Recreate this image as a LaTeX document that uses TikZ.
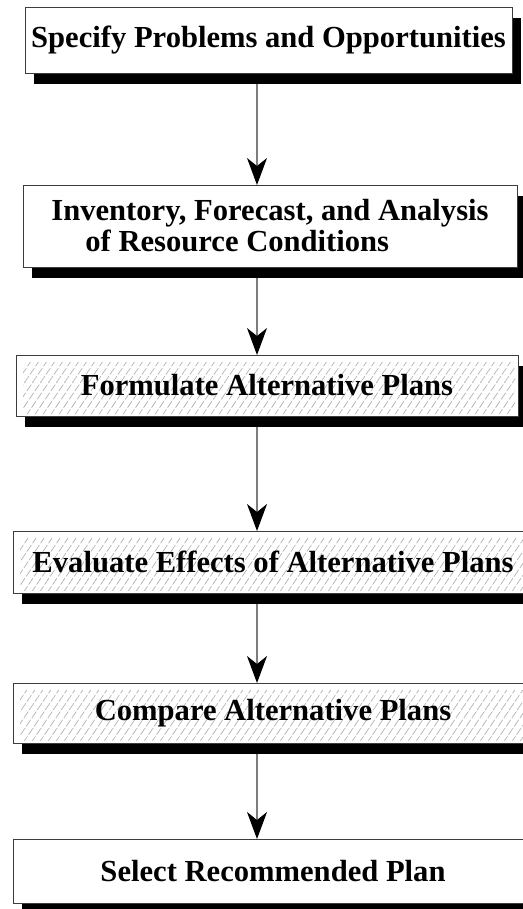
\documentclass[tikz,border=0pt]{standalone}
\usepackage{fontspec}
\setmainfont{Liberation Serif}
\usetikzlibrary{arrows.meta, shadows}
\definecolor{edge}{RGB}{60, 60, 60}
\definecolor{hatch}{RGB}{170, 170, 170}
\definecolor{wire}{RGB}{125, 125, 125}

\tikzset{
  stage/.style={draw=edge, line width=0.9pt, fill=white, anchor=north west,
    inner sep=0pt, outer sep=0pt, align=center,
    font=\bfseries\fontsize{30.6}{31}\selectfont,
    drop shadow={shadow xshift=9pt, shadow yshift=-11pt, fill=black, opacity=1}},
  hatched/.style={path picture={
    \begin{scope}
    \clip ([shift={(7pt,3pt)}]path picture bounding box.south west)
      rectangle ([shift={(-3pt,-7pt)}]path picture bounding box.north east);
    \foreach \i in {-70,-62,...,560}
      \draw[hatch, line width=0.6pt, dash pattern=on 8pt off 2pt]
        ([xshift=\i pt]path picture bounding box.south west) -- ++(56:110pt);
    \end{scope}}},
  flow/.style={wire, line width=1.1pt,
    -{Stealth[length=27pt, width=20pt, inset=8pt, color=black]}}
}

\begin{document}
\begin{tikzpicture}[x=1pt, y=1pt]
  \useasboundingbox (0,0) rectangle (522,-909);
  \coordinate (axis) at (257,0);

  % planning steps
  \node[stage, minimum width=487pt, minimum height=66pt] (specify) at (25,-7)
    {Specify Problems and Opportunities};
  \node[stage, align=left, minimum width=494pt, minimum height=82pt] (inventory) at (23,-185)
    {Inventory, Forecast, and Analysis\\\hspace*{34pt}of Resource Conditions};
  \node[stage, hatched, minimum width=502pt, minimum height=61pt] (formulate) at (16,-355)
    {Formulate Alternative Plans};
  \node[stage, hatched, minimum width=520pt, minimum height=62pt] (evaluate) at (13,-531)
    {Evaluate Effects of Alternative Plans};
  \node[stage, hatched, minimum width=520pt, minimum height=60pt] (compare) at (13,-683)
    {Compare Alternative Plans};
  \node[stage, minimum width=520pt, minimum height=64pt] (select) at (13,-839)
    {Select Recommended Plan};

  % arrows between steps
  \draw[flow] ([yshift=-11pt]specify.south -| axis) -- (inventory.north -| axis);
  \draw[flow] ([yshift=-11pt]inventory.south -| axis) -- (formulate.north -| axis);
  \draw[flow] ([yshift=-11pt]formulate.south -| axis) -- (evaluate.north -| axis);
  \draw[flow] ([yshift=-11pt]evaluate.south -| axis) -- (compare.north -| axis);
  \draw[flow] ([yshift=-11pt]compare.south -| axis) -- (select.north -| axis);
\end{tikzpicture}
\end{document}
